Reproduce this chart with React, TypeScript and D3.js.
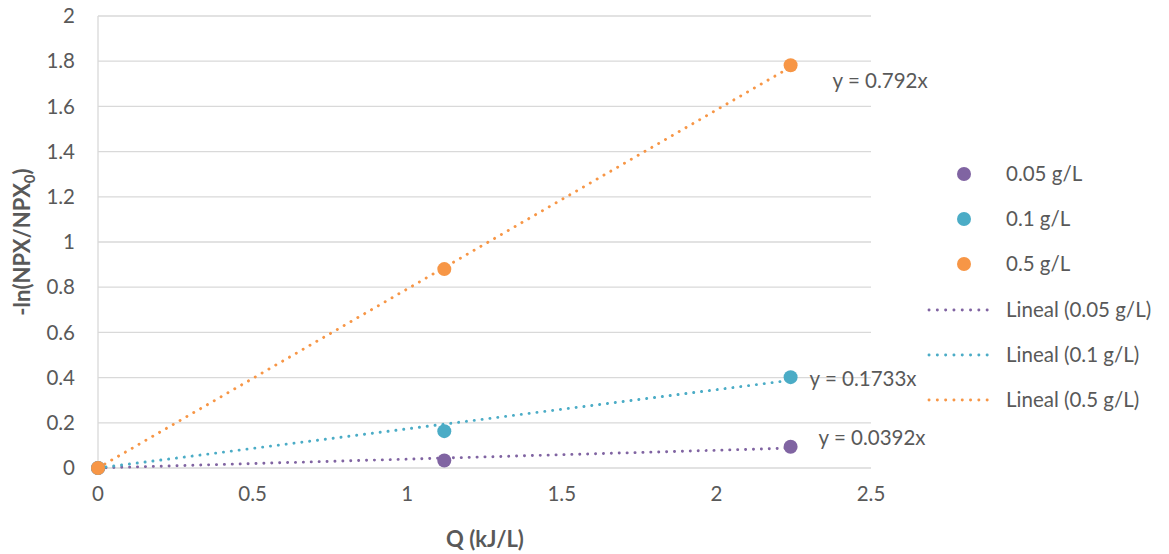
import React from "react";
import * as d3 from "d3";

const xValues = [0, 1.12, 2.24];
const series005 = [0, 0.033, 0.094];
const series01 = [0, 0.163, 0.402];
const series05 = [0, 0.88, 1.782];
const slopes = [0.0392, 0.1733, 0.792];
const seriesNames = ["0.05 g/L", "0.1 g/L", "0.5 g/L"];
const equationLabels = ["y = 0.0392x", "y = 0.1733x", "y = 0.792x"];
const xTicks = [0, 0.5, 1, 1.5, 2, 2.5];
const yTicks = [0, 0.2, 0.4, 0.6, 0.8, 1, 1.2, 1.4, 1.6, 1.8, 2];
const colors = ["#8064A2", "#4BACC6", "#F79646"];

const W = 1169, H = 554;
const FONT = "Lato, 'Open Sans', sans-serif";
const TXT = "#595959";
const FS = 20.5;

export default function App() {
  const x = d3.scaleLinear().domain([0, 2.5]).range([98, 871]);
  const y = d3.scaleLinear().domain([0, 2]).range([468, 16]);
  const all = [series005, series01, series05];
  const line = d3.line<[number, number]>().x(d => x(d[0])).y(d => y(d[1]));
  const xEnd = xValues[xValues.length - 1];
  const eqPos = [
    { dx: 28, dy: -10 },
    { dx: 19, dy: -1 },
    { dx: 42, dy: 14 },
  ];
  const dotStyle = { strokeWidth: 2.9, strokeDasharray: "0.1 7.8", strokeLinecap: "round" as const, fill: "none" };
  return (
    <div style={{ position: "absolute", left: 0, top: 0 }}>
      <svg width={W} height={H} style={{ display: "block", background: "#fff" }} fontFamily={FONT}>
        {yTicks.map(t => (
          <g key={"y" + t}>
            {t !== 0 && <line x1={x(0)} x2={x(2.5)} y1={y(t)} y2={y(t)} stroke="#D9D9D9" strokeWidth={1.3} />}
            <text x={75} y={y(t)} dy="0.35em" textAnchor="end" fontSize={FS} fill={TXT}>{t}</text>
          </g>
        ))}
        <line x1={x(0)} x2={x(0)} y1={y(2)} y2={y(0)} stroke="#D9D9D9" strokeWidth={1.3} />
        <line x1={x(0)} x2={x(2.5)} y1={y(0)} y2={y(0)} stroke="#D9D9D9" strokeWidth={1.3} />
        {xTicks.map(t => (
          <text key={"x" + t} x={x(t)} y={501} textAnchor="middle" fontSize={FS} fill={TXT}>{t}</text>
        ))}
        {slopes.map((s, i) => (
          <path key={"tl" + i} d={line([[0, 0], [xEnd, s * xEnd]]) || ""} stroke={colors[i]} {...dotStyle} />
        ))}
        {all.map((vals, i) => vals.map((v, j) => (
          <circle key={"p" + i + "-" + j} cx={x(xValues[j])} cy={y(v)} r={7} fill={colors[i]} />
        )))}
        {slopes.map((s, i) => (
          <text key={"eq" + i} x={x(xEnd) + eqPos[i].dx} y={y(s * xEnd) + eqPos[i].dy} dy="0.35em" fontSize={FS} fill={TXT}>{equationLabels[i]}</text>
        ))}
        <text x={485} y={547} textAnchor="middle" fontSize={22} fontWeight="bold" fill={TXT}>Q (kJ/L)</text>
        <text transform={`translate(30,242) rotate(-90)`} textAnchor="middle" fontSize={22} fontWeight="bold" fill={TXT}>
          -ln(NPX/NPX<tspan fontSize={15} dy={5}>0</tspan><tspan dy={-5}>)</tspan>
        </text>
        {seriesNames.map((n, i) => (
          <g key={"lg" + i}>
            <circle cx={964} cy={174 + i * 45} r={7} fill={colors[i]} />
            <text x={1006} y={174 + i * 45} dy="0.35em" fontSize={FS} fill={TXT}>{n}</text>
          </g>
        ))}
        {seriesNames.map((n, i) => (
          <g key={"lt" + i}>
            <line x1={929} x2={995} y1={310 + i * 45} y2={310 + i * 45} stroke={colors[i]} {...dotStyle} strokeDasharray="0.1 8.2" />
            <text x={1006} y={310 + i * 45} dy="0.35em" fontSize={FS} fill={TXT}>{"Lineal (" + n + ")"}</text>
          </g>
        ))}
      </svg>
    </div>
  );
}
